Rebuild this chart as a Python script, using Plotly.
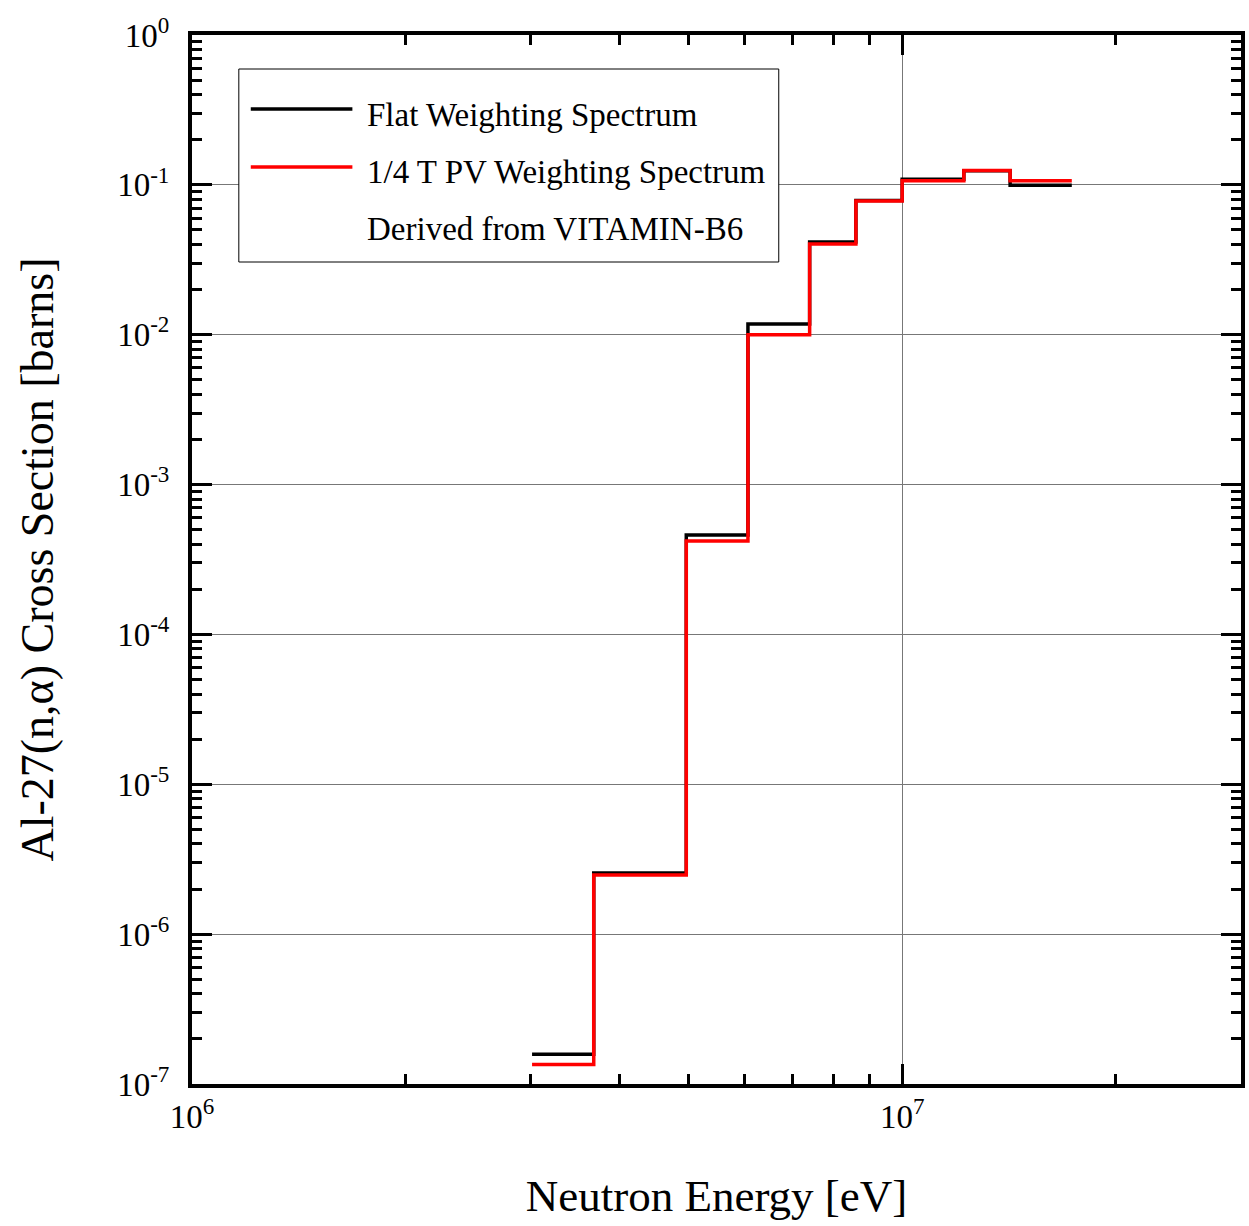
import plotly.graph_objects as go
import numpy as np

# Group boundaries (eV) and group-averaged cross sections (barns)
energy_edges = [3.0119e6, 3.6788e6, 4.9659e6, 6.0653e6, 7.4082e6, 8.6071e6,
                1.0e7, 1.2214e7, 1.4191e7, 1.7332e7]
flat_xs = [1.58e-7, 2.56e-6, 4.6e-4, 1.18e-2, 4.16e-2, 7.85e-2, 0.109, 0.124, 0.0995]
pv_xs = [1.35e-7, 2.48e-6, 4.2e-4, 1.0e-2, 4.03e-2, 7.8e-2, 0.1066, 0.1245, 0.1066]

series_names = ["Flat Weighting Spectrum", "1/4 T PV Weighting Spectrum"]
note_text = "Derived from VITAMIN-B6"
x_title = "Neutron Energy [eV]"
y_title = "Al-27(n,\u03b1) Cross Section [barns]"

x_major = [1e6, 1e7]
x_major_text = ["10<sup>6</sup>", "10<sup>7</sup>"]
y_major = [10.0 ** k for k in range(-7, 1)]
y_major_text = ["10<sup>%d</sup>" % k for k in range(-7, 1)]

FONT = "Liberation Serif, Times New Roman, serif"

x_minor = [m * 10.0 ** d for d in (6, 7) for m in range(2, 10) if m * 10.0 ** d <= 3e7]
y_minor = [m * 10.0 ** d for d in range(-7, 0) for m in range(2, 10)]

fig = go.Figure()
for vals, color, name in [(flat_xs, "black", series_names[0]), (pv_xs, "#ff0000", series_names[1])]:
    fig.add_trace(go.Scatter(
        x=energy_edges, y=list(vals) + [vals[-1]],
        mode="lines", line=dict(color=color, width=3.5, shape="hv"),
        name=name, showlegend=False))

axis_common = dict(
    type="log", showline=True, linecolor="black", linewidth=4, mirror="allticks",
    ticks="inside", ticklen=20, tickwidth=3, tickcolor="black",
    showgrid=True, gridcolor="#777777", gridwidth=1, zeroline=False,
    tickfont=dict(family=FONT, size=33, color="black"),
)

fig.update_xaxes(
    **axis_common, range=[6, np.log10(3e7)], tickmode="array",
    tickvals=x_major, ticktext=x_major_text,
    minor=dict(ticks="inside", ticklen=10, tickwidth=3, tickcolor="black",
               tickmode="array", tickvals=x_minor, showgrid=False),
    title=dict(text=x_title, font=dict(family=FONT, size=45, color="black"), standoff=47),
)
fig.update_yaxes(
    **axis_common, range=[-7, 0], tickmode="array",
    tickvals=y_major, ticktext=y_major_text, ticklabelstandoff=12,
    minor=dict(ticks="inside", ticklen=10, tickwidth=3, tickcolor="black",
               tickmode="array", tickvals=y_minor, showgrid=False),
    title=dict(text=y_title, font=dict(family=FONT, size=46, color="black"), standoff=50),
)

# legend drawn in paper coordinates
W, H = 1053.0, 1049.0
def px(x):
    return (x - 192) / W
def py(y):
    return (1084 - y) / H

fig.add_shape(type="rect", xref="paper", yref="paper",
              x0=px(239), x1=px(781), y0=py(262), y1=py(69),
              line=dict(color="black", width=1), fillcolor="white", layer="above")
for yy, color in [(109, "black"), (167, "#ff0000")]:
    fig.add_shape(type="line", xref="paper", yref="paper",
                  x0=px(251), x1=px(353), y0=py(yy), y1=py(yy),
                  line=dict(color=color, width=3.5), layer="above")
for yy, txt in [(115, series_names[0]), (172, series_names[1]), (229, note_text)]:
    fig.add_annotation(xref="paper", yref="paper", x=px(366), y=py(yy),
                       xanchor="left", yanchor="middle", showarrow=False, text=txt,
                       font=dict(family=FONT, size=33, color="black"))

fig.update_layout(
    width=1249, height=1226,
    margin=dict(l=192, r=4, t=35, b=142),
    plot_bgcolor="white", paper_bgcolor="white",
    font=dict(family=FONT, color="black"),
)

fig.write_html("out.html")
